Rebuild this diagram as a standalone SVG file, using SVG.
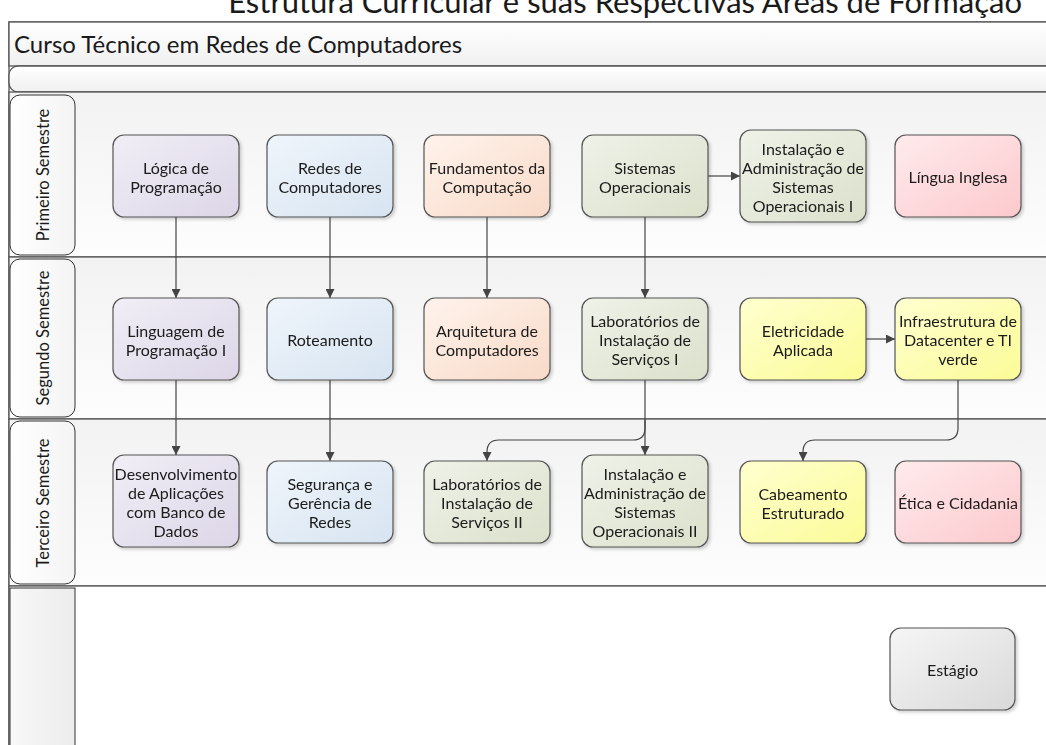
<svg xmlns="http://www.w3.org/2000/svg" width="1046" height="745" viewBox="0 0 1046 745">
<style>
text{font-family:Lato,"Open Sans","Liberation Sans",sans-serif;fill:#1a1a1a}
.t{font-size:16px;text-anchor:middle;dominant-baseline:central}
.node{stroke:#555;stroke-width:1.2}
.lane{fill:url(#gLane);stroke:#555;stroke-width:1.3}
.hdr{fill:url(#gHdr);stroke:#333;stroke-width:1}
.lbl{font-size:16.5px;text-anchor:middle;dominant-baseline:central}
.c{fill:none;stroke:#444;stroke-width:1.2;marker-end:url(#arr)}
</style>
<defs>
<linearGradient id="gLane" x1="0" y1="0" x2="0" y2="1"><stop offset="0" stop-color="#f2f2f2"/><stop offset="1" stop-color="#fdfdfd"/></linearGradient>
<linearGradient id="gTitle" x1="0" y1="0" x2="0" y2="1"><stop offset="0" stop-color="#ffffff"/><stop offset="1" stop-color="#f0f0f0"/></linearGradient>
<linearGradient id="gHdr" x1="0" y1="0" x2="1" y2="0"><stop offset="0" stop-color="#ffffff"/><stop offset="1" stop-color="#f4f4f4"/></linearGradient>
<linearGradient id="gHdr4" x1="0" y1="0" x2="1" y2="0"><stop offset="0" stop-color="#f8f8f8"/><stop offset="1" stop-color="#ececec"/></linearGradient>
<linearGradient id="gPur" x1="0" y1="0" x2="1" y2="1"><stop offset="0" stop-color="#f1eef6"/><stop offset="1" stop-color="#dcd6e7"/></linearGradient>
<linearGradient id="gBlu" x1="0" y1="0" x2="1" y2="1"><stop offset="0" stop-color="#eff5fb"/><stop offset="1" stop-color="#d7e4f1"/></linearGradient>
<linearGradient id="gPea" x1="0" y1="0" x2="1" y2="1"><stop offset="0" stop-color="#fff3ec"/><stop offset="1" stop-color="#f8dac8"/></linearGradient>
<linearGradient id="gGrn" x1="0" y1="0" x2="1" y2="1"><stop offset="0" stop-color="#eff2e8"/><stop offset="1" stop-color="#dbe1cc"/></linearGradient>
<linearGradient id="gPnk" x1="0" y1="0" x2="1" y2="1"><stop offset="0" stop-color="#ffebec"/><stop offset="1" stop-color="#fcc9cd"/></linearGradient>
<linearGradient id="gYel" x1="0" y1="0" x2="1" y2="1"><stop offset="0" stop-color="#ffffcf"/><stop offset="1" stop-color="#fbfb98"/></linearGradient>
<linearGradient id="gGry" x1="0" y1="0" x2="1" y2="1"><stop offset="0" stop-color="#f6f6f6"/><stop offset="1" stop-color="#d9d9d9"/></linearGradient>
<filter id="sh" x="-10%" y="-10%" width="125%" height="125%"><feDropShadow dx="2" dy="2" stdDeviation="1.5" flood-color="#000" flood-opacity="0.18"/></filter>
<marker id="arr" viewBox="0 0 10 10" refX="10" refY="5" markerWidth="9" markerHeight="9" markerUnits="userSpaceOnUse" orient="auto"><path d="M0,0 L10,5 L0,10 Z" fill="#444"/></marker>
</defs>

<rect x="0" y="0" width="1046" height="745" fill="#ffffff"/>
<text x="1022" y="13" style="font-size:31px;text-anchor:end">Estrutura Curricular e suas Respectivas Áreas de Formação</text>

<g id="pool">
<rect x="9" y="22" width="1050" height="730" fill="#ffffff" stroke="#555" stroke-width="1.3"/>
<rect x="9" y="22" width="1050" height="44" fill="url(#gTitle)" stroke="#555" stroke-width="1.3"/>
<text x="14" y="43" style="font-size:24px;dominant-baseline:central">Curso Técnico em Redes de Computadores</text>
<rect x="9" y="66" width="1050" height="26" rx="9" fill="url(#gTitle)" stroke="#555" stroke-width="1.3"/>
</g>

<g id="lane1">
<rect class="lane" x="9" y="92" width="1050" height="165"/>
<rect class="hdr" x="10" y="95" width="65" height="160" rx="10"/>
<text class="lbl" transform="translate(43 175) rotate(-90)">Primeiro Semestre</text>
</g>
<g id="lane2">
<rect class="lane" x="9" y="257" width="1050" height="162"/>
<rect class="hdr" x="10" y="259" width="65" height="158" rx="10"/>
<text class="lbl" transform="translate(43 338) rotate(-90)">Segundo Semestre</text>
</g>
<g id="lane3">
<rect class="lane" x="9" y="419" width="1050" height="167"/>
<rect class="hdr" x="10" y="421" width="65" height="163" rx="10"/>
<text class="lbl" transform="translate(43 503) rotate(-90)">Terceiro Semestre</text>
</g>
<g id="lane4">
<rect x="9" y="586" width="1050" height="170" fill="#ffffff" stroke="#555" stroke-width="1.3"/>
<rect x="10" y="588" width="65" height="170" fill="url(#gHdr4)" stroke="#333" stroke-width="1"/>
</g>

<g id="connectors">
<path class="c" d="M176,217 V298"/>
<path class="c" d="M330,217 V298"/>
<path class="c" d="M487,217 V298"/>
<path class="c" d="M645,217 V298"/>
<path class="c" d="M708,176 H740"/>
<path class="c" d="M866,339 H895"/>
<path class="c" d="M176,380 V455"/>
<path class="c" d="M330,380 V461"/>
<path class="c" d="M645,380 V455"/>
<path class="c" d="M645,420 V428 Q645,440 633,440 H499 Q487,440 487,452 V461"/>
<path class="c" d="M958,380 V428 Q958,440 946,440 H815 Q803,440 803,452 V461"/>
</g>

<g id="n_logica" filter="url(#sh)"><rect class="node" x="113" y="135" width="126" height="82" rx="11" fill="url(#gPur)"/>
<text class="t"><tspan x="176" y="166.5">Lógica de</tspan><tspan x="176" y="185.5">Programação</tspan></text></g>
<g id="n_redes" filter="url(#sh)"><rect class="node" x="267" y="135" width="126" height="82" rx="11" fill="url(#gBlu)"/>
<text class="t"><tspan x="330" y="166.5">Redes de</tspan><tspan x="330" y="185.5">Computadores</tspan></text></g>
<g id="n_fund" filter="url(#sh)"><rect class="node" x="424" y="135" width="126" height="82" rx="11" fill="url(#gPea)"/>
<text class="t"><tspan x="487" y="166.5">Fundamentos da</tspan><tspan x="487" y="185.5">Computação</tspan></text></g>
<g id="n_so" filter="url(#sh)"><rect class="node" x="582" y="135" width="126" height="82" rx="11" fill="url(#gGrn)"/>
<text class="t"><tspan x="645" y="166.5">Sistemas</tspan><tspan x="645" y="185.5">Operacionais</tspan></text></g>
<g id="n_iaso1" filter="url(#sh)"><rect class="node" x="740" y="130" width="126" height="92" rx="11" fill="url(#gGrn)"/>
<text class="t"><tspan x="803" y="147.5">Instalação e</tspan><tspan x="803" y="166.5">Administração de</tspan><tspan x="803" y="185.5">Sistemas</tspan><tspan x="803" y="204.5">Operacionais I</tspan></text></g>
<g id="n_ingles" filter="url(#sh)"><rect class="node" x="895" y="135" width="126" height="82" rx="11" fill="url(#gPnk)"/>
<text class="t" x="958" y="176">Língua Inglesa</text></g>

<g id="n_ling" filter="url(#sh)"><rect class="node" x="113" y="298" width="126" height="82" rx="11" fill="url(#gPur)"/>
<text class="t"><tspan x="176" y="329.5">Linguagem de</tspan><tspan x="176" y="348.5">Programação I</tspan></text></g>
<g id="n_rot" filter="url(#sh)"><rect class="node" x="267" y="298" width="126" height="82" rx="11" fill="url(#gBlu)"/>
<text class="t" x="330" y="339">Roteamento</text></g>
<g id="n_arq" filter="url(#sh)"><rect class="node" x="424" y="298" width="126" height="82" rx="11" fill="url(#gPea)"/>
<text class="t"><tspan x="487" y="329.5">Arquitetura de</tspan><tspan x="487" y="348.5">Computadores</tspan></text></g>
<g id="n_lab1" filter="url(#sh)"><rect class="node" x="582" y="298" width="126" height="82" rx="11" fill="url(#gGrn)"/>
<text class="t"><tspan x="645" y="320">Laboratórios de</tspan><tspan x="645" y="339">Instalação de</tspan><tspan x="645" y="358">Serviços I</tspan></text></g>
<g id="n_elet" filter="url(#sh)"><rect class="node" x="740" y="298" width="126" height="82" rx="11" fill="url(#gYel)"/>
<text class="t"><tspan x="803" y="329.5">Eletricidade</tspan><tspan x="803" y="348.5">Aplicada</tspan></text></g>
<g id="n_infra" filter="url(#sh)"><rect class="node" x="895" y="298" width="126" height="82" rx="11" fill="url(#gYel)"/>
<text class="t"><tspan x="958" y="320">Infraestrutura de</tspan><tspan x="958" y="339">Datacenter e TI</tspan><tspan x="958" y="358">verde</tspan></text></g>

<g id="n_dev" filter="url(#sh)"><rect class="node" x="113" y="455" width="126" height="92" rx="11" fill="url(#gPur)"/>
<text class="t"><tspan x="176" y="472.5">Desenvolvimento</tspan><tspan x="176" y="491.5">de Aplicações</tspan><tspan x="176" y="510.5">com Banco de</tspan><tspan x="176" y="529.5">Dados</tspan></text></g>
<g id="n_seg" filter="url(#sh)"><rect class="node" x="267" y="461" width="126" height="82" rx="11" fill="url(#gBlu)"/>
<text class="t"><tspan x="330" y="483">Segurança e</tspan><tspan x="330" y="502">Gerência de</tspan><tspan x="330" y="521">Redes</tspan></text></g>
<g id="n_lab2" filter="url(#sh)"><rect class="node" x="424" y="461" width="126" height="82" rx="11" fill="url(#gGrn)"/>
<text class="t"><tspan x="487" y="483">Laboratórios de</tspan><tspan x="487" y="502">Instalação de</tspan><tspan x="487" y="521">Serviços II</tspan></text></g>
<g id="n_iaso2" filter="url(#sh)"><rect class="node" x="582" y="455" width="126" height="92" rx="11" fill="url(#gGrn)"/>
<text class="t"><tspan x="645" y="472.5">Instalação e</tspan><tspan x="645" y="491.5">Administração de</tspan><tspan x="645" y="510.5">Sistemas</tspan><tspan x="645" y="529.5">Operacionais II</tspan></text></g>
<g id="n_cab" filter="url(#sh)"><rect class="node" x="740" y="461" width="126" height="82" rx="11" fill="url(#gYel)"/>
<text class="t"><tspan x="803" y="492.5">Cabeamento</tspan><tspan x="803" y="511.5">Estruturado</tspan></text></g>
<g id="n_etica" filter="url(#sh)"><rect class="node" x="895" y="461" width="126" height="82" rx="11" fill="url(#gPnk)"/>
<text class="t" x="958" y="502">Ética e Cidadania</text></g>

<g id="n_estagio" filter="url(#sh)"><rect class="node" x="890" y="628" width="125" height="82" rx="11" fill="url(#gGry)"/>
<text class="t" x="952.5" y="669">Estágio</text></g>
</svg>
